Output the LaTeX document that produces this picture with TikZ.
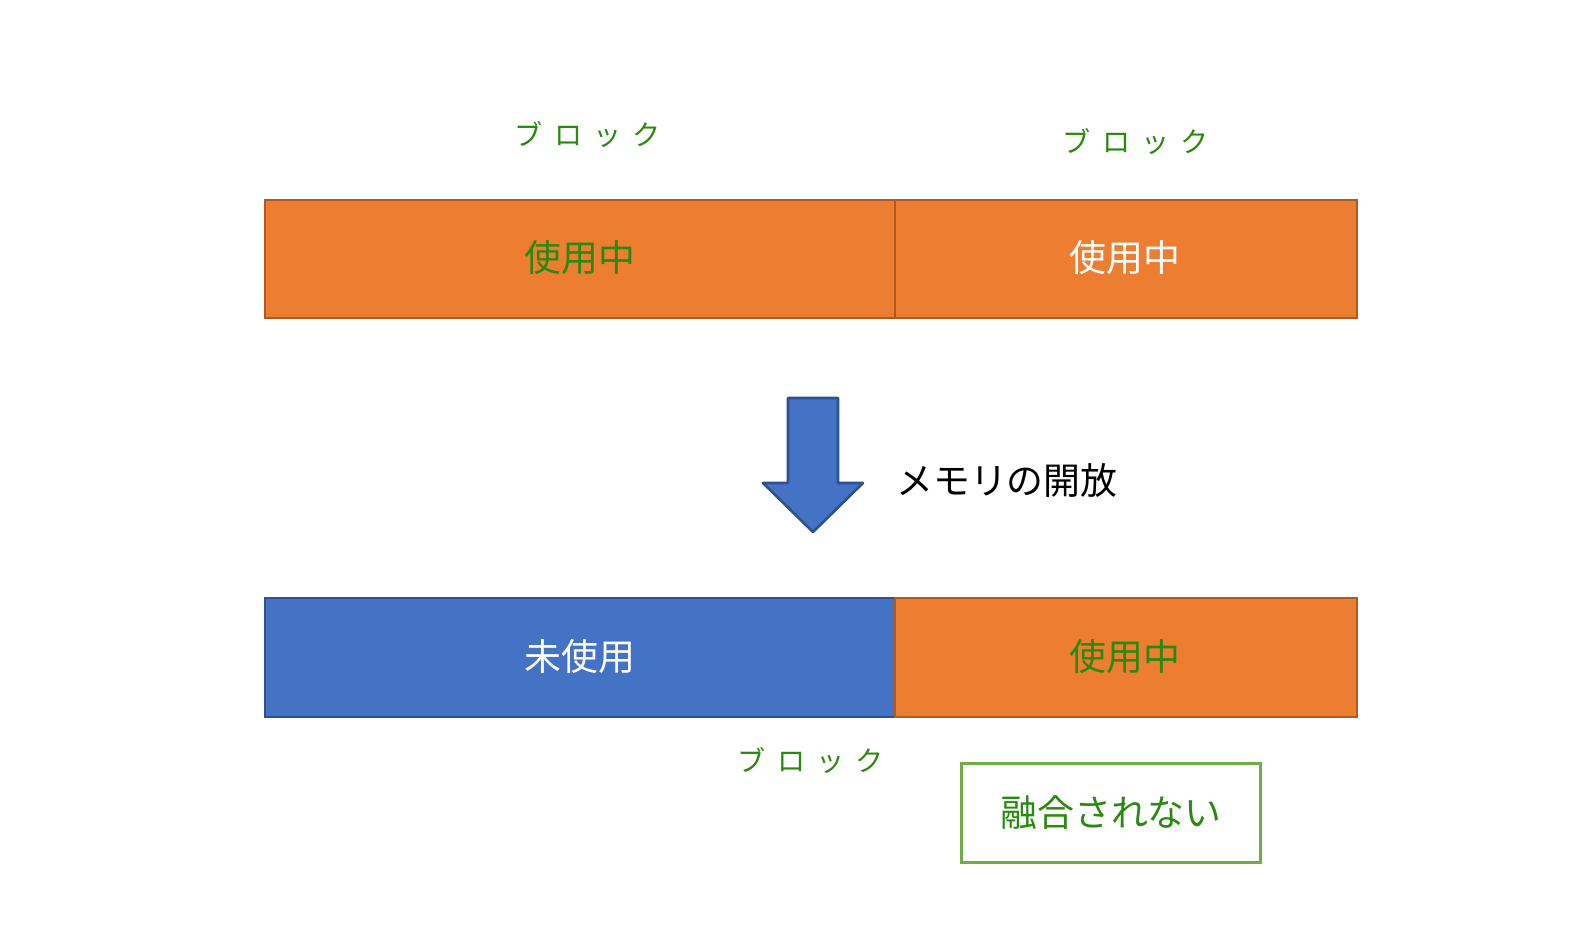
\documentclass[tikz,border=0pt]{standalone}
\usepackage{fontspec}
\newfontfamily\jp{Noto Sans CJK JP}
\newfontfamily\jpsp[LetterSpace=40]{Noto Sans CJK JP}
\definecolor{usedfill}{HTML}{ED7D31}
\definecolor{usedline}{HTML}{AE5A21}
\definecolor{freefill}{HTML}{4472C4}
\definecolor{freeline}{HTML}{2F528F}
\definecolor{labelgreen}{HTML}{2A8A10}
\definecolor{boxgreen}{HTML}{70AD47}
\tikzset{
  used/.style={fill=usedfill,draw=usedline,line width=1.5pt},
  free/.style={fill=freefill,draw=freeline,line width=1.5pt},
  bartext/.style={font=\jp\fontsize{21}{21}\selectfont},
  blocklabel/.style={font=\jpsp\fontsize{16}{16}\selectfont,text=labelgreen}
}
\begin{document}
\begin{tikzpicture}[x=0.02cm,y=-0.02cm]
  \useasboundingbox (0,0) rectangle (1578,937);
  % top row
  \draw[used] (265,200) rectangle (895,318);
  \draw[used] (895,200) rectangle (1357,318);
  \node[bartext,text=labelgreen] (topused) at (580,258) {使用中};
  \node[bartext,text=white] (topright) at (1125,258) {使用中};
  \node[blocklabel] (blockA) at (588,135) {ブロック};
  \node[blocklabel] (blockB) at (1136,142) {ブロック};
  % arrow
  \draw[free,line join=round] (788,398) -- (838,398) -- (838,483) -- (863,483)
    -- (813,532) -- (763,483) -- (788,483) -- cycle;
  \node[bartext,text=black,anchor=west] (release) at (890,480) {メモリの開放};
  % bottom row
  \draw[free] (265,598) rectangle (895,717);
  \draw[used] (895,598) rectangle (1357,717);
  \node[bartext,text=white] (unused) at (580,657) {未使用};
  \node[bartext,text=labelgreen] (botused) at (1125,657) {使用中};
  \node[blocklabel] (blockC) at (811,760) {ブロック};
  \node[bartext,text=labelgreen,draw=boxgreen,line width=1.5pt,
    minimum width=299*0.02cm,minimum height=99*0.02cm] (nomerge) at (1111,813) {融合されない};
\end{tikzpicture}
\end{document}
